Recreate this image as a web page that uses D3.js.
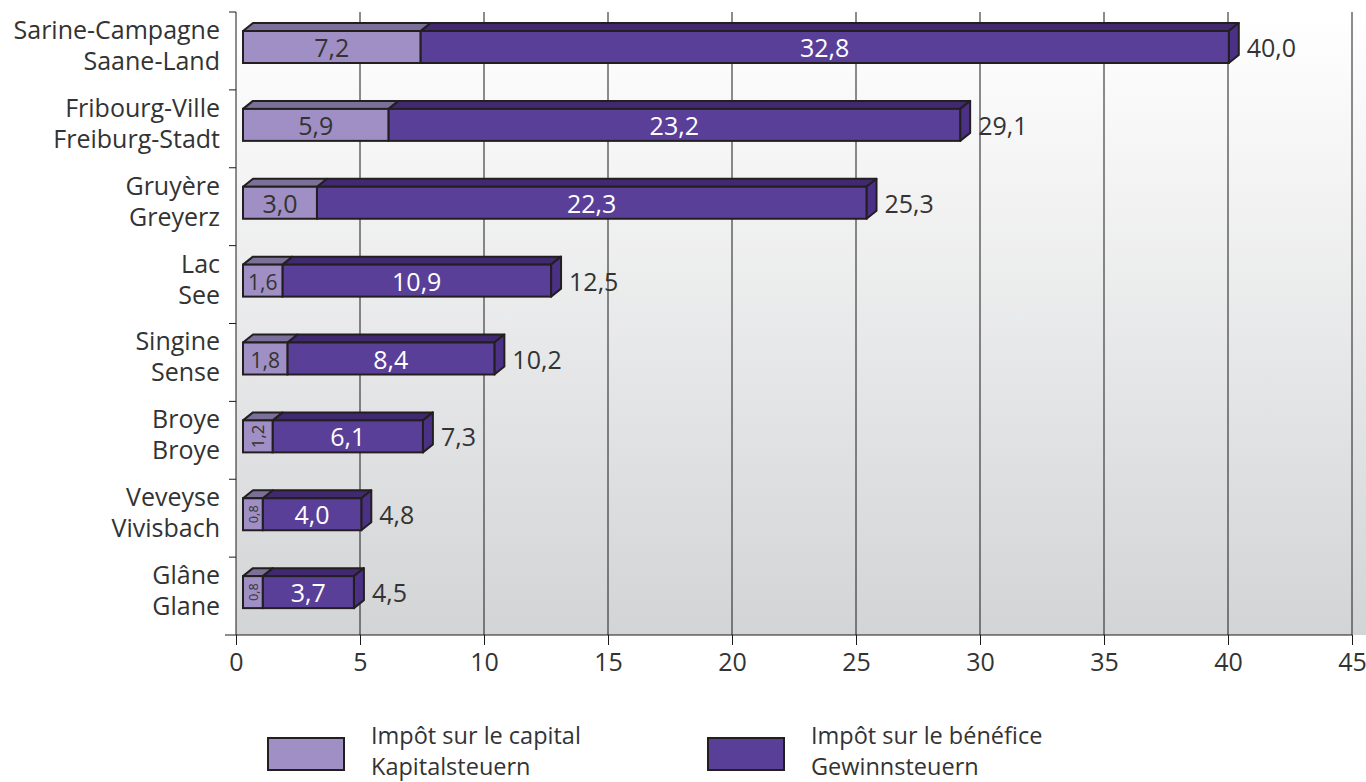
<!DOCTYPE html>
<html>
<head>
<meta charset="utf-8">
<script src="https://cdn.jsdelivr.net/npm/d3@7"></script>
<style>
    body { margin: 0; background: #fff; }
    svg text { font-family: "Open Sans", "Noto Sans", sans-serif; }
</style>
</head>
<body>
<div id="chart"></div>
<script>
// Districts (French / German)
const regionsFr = ['Sarine-Campagne', 'Fribourg-Ville', 'Gruyère', 'Lac', 'Singine', 'Broye', 'Veveyse', 'Glâne'];
const regionsDe = ['Saane-Land', 'Freiburg-Stadt', 'Greyerz', 'See', 'Sense', 'Broye', 'Vivisbach', 'Glane'];

// Values
const capital = [7.2, 5.9, 3.0, 1.6, 1.8, 1.2, 0.8, 0.8];
const benefice = [32.8, 23.2, 22.3, 10.9, 8.4, 6.1, 4.0, 3.7];
const totals = [40.0, 29.1, 25.3, 12.5, 10.2, 7.3, 4.8, 4.5];

const xTicks = [0, 5, 10, 15, 20, 25, 30, 35, 40, 45];
const legendFr = ['Impôt sur le capital', 'Impôt sur le bénéfice'];
const legendDe = ['Kapitalsteuern', 'Gewinnsteuern'];

const config = {
    width: 1366,
    height: 782,
    margin: { top: 12, right: 14, bottom: 147, left: 236 }
};

const colors = {
    capital: { front: '#9f8fc4', top: '#7b7097', side: '#6f6390' },
    benefice: { front: '#5a3f99', top: '#40296f', side: '#4a3186' }
};
const depth = { dx: 10, dy: 8 };

const fr = d3.formatLocale({ decimal: ',', thousands: "'", grouping: [3], currency: ['', ''] });
const fmt = fr.format('.1f');

const svg = d3.select('#chart').append('svg')
    .attr('width', config.width)
    .attr('height', config.height);

const plotW = config.width - config.margin.left - config.margin.right;
const plotH = config.height - config.margin.top - config.margin.bottom;
const x0 = config.margin.left, y0 = config.margin.top;

// Background gradient
const defs = svg.append('defs');
const grad = defs.append('linearGradient')
    .attr('id', 'bg').attr('x1', 0).attr('y1', 0).attr('x2', 0).attr('y2', 1);
grad.append('stop').attr('offset', '0%').attr('stop-color', '#ffffff');
grad.append('stop').attr('offset', '100%').attr('stop-color', '#d3d4d6');

svg.append('rect')
    .attr('x', x0).attr('y', y0)
    .attr('width', config.width - x0).attr('height', plotH)
    .attr('fill', 'url(#bg)');

// Scales
const x = d3.scaleLinear().domain([0, 45]).range([x0, x0 + plotW]);
// bars sit slightly inside the floor because of the 3D projection
const xb = d3.scaleLinear().domain([0, 45]).range([x(0) + 7, x(45)]);
const y = d3.scaleBand().domain(regionsFr).range([y0, y0 + plotH]);

// Gridlines
svg.append('g').selectAll('line')
    .data(xTicks.slice(1))
    .join('line')
    .attr('x1', d => x(d)).attr('x2', d => x(d))
    .attr('y1', y0).attr('y2', y0 + plotH)
    .attr('stroke', '#1a1a1a').attr('stroke-width', 1);

// Bottom axis
const xAxis = svg.append('g')
    .attr('transform', `translate(0,${y0 + plotH})`)
    .call(d3.axisBottom(x).tickValues(xTicks).tickSize(10).tickPadding(8).tickFormat(d => d));
xAxis.select('.domain').remove();
xAxis.append('line')
    .attr('x1', x0 - 11).attr('x2', x(45))
    .attr('stroke', '#1a1a1a');
xAxis.selectAll('.tick line').attr('stroke', '#1a1a1a');
xAxis.selectAll('.tick text')
    .attr('font-size', 25).attr('fill', '#333')
    .style('font-family', '"Open Sans", sans-serif');

// Left axis line + ticks at band boundaries
svg.append('line')
    .attr('x1', x0).attr('x2', x0).attr('y1', y0).attr('y2', y0 + plotH)
    .attr('stroke', '#1a1a1a');
const bounds = regionsFr.map(d => y(d));
svg.append('g').selectAll('line')
    .data(bounds)
    .join('line')
    .attr('x1', x0 - 7).attr('x2', x0)
    .attr('y1', d => d).attr('y2', d => d)
    .attr('stroke', '#1a1a1a');

// Category labels
const catLabels = svg.append('g').selectAll('text')
    .data(regionsFr)
    .join('text')
    .attr('text-anchor', 'end')
    .attr('font-size', 25)
    .attr('fill', '#333');
catLabels.append('tspan')
    .attr('x', 220)
    .attr('y', d => y(d) + y.bandwidth() / 2 - 12)
    .text(d => d);
catLabels.append('tspan')
    .attr('x', 220)
    .attr('y', (d, i) => y(d) + y.bandwidth() / 2 + 19)
    .text((d, i) => regionsDe[i]);

// Bars
const faceTop = 19, faceH = 32;

function drawBox(g, xa, xbEnd, yt, c, showSide) {
    // top face
    g.append('path')
        .attr('d', `M${xa},${yt} L${xa + depth.dx},${yt - depth.dy} L${xbEnd + depth.dx},${yt - depth.dy} L${xbEnd},${yt} Z`)
        .attr('fill', c.top).attr('stroke', '#231f20').attr('stroke-width', 2).attr('stroke-linejoin', 'round');
    if (showSide) {
        g.append('path')
            .attr('d', `M${xbEnd},${yt} L${xbEnd + depth.dx},${yt - depth.dy} L${xbEnd + depth.dx},${yt + faceH - depth.dy} L${xbEnd},${yt + faceH} Z`)
            .attr('fill', c.side).attr('stroke', '#231f20').attr('stroke-width', 2).attr('stroke-linejoin', 'round');
    }
    g.append('rect')
        .attr('x', xa).attr('y', yt)
        .attr('width', xbEnd - xa).attr('height', faceH)
        .attr('fill', c.front).attr('stroke', '#231f20').attr('stroke-width', 2);
}

const bars = svg.append('g');
regionsFr.forEach((r, i) => {
    const g = bars.append('g');
    const yt = y(r) + faceTop;
    const a = xb(0), b = xb(capital[i]), c = xb(capital[i] + benefice[i]);
    drawBox(g, b, c, yt, colors.benefice, true);
    drawBox(g, a, b, yt, colors.capital, false);

    const cy = yt + faceH / 2;
    // capital label
    const wCap = b - a;
    if (wCap > 55) {
        g.append('text').attr('x', (a + b) / 2).attr('y', cy)
            .attr('text-anchor', 'middle').attr('dominant-baseline', 'central')
            .attr('font-size', 25).attr('fill', '#333').text(fmt(capital[i]));
    } else if (wCap > 36) {
        g.append('text').attr('x', (a + b) / 2).attr('y', cy + 1)
            .attr('text-anchor', 'middle').attr('dominant-baseline', 'central')
            .attr('font-size', 21).attr('fill', '#333').text(fmt(capital[i]));
    } else {
        g.append('text')
            .attr('transform', `translate(${(a + b) / 2},${cy}) rotate(-90)`)
            .attr('text-anchor', 'middle').attr('dominant-baseline', 'central')
            .attr('font-size', Math.min(17, wCap * 0.65)).attr('fill', '#333').text(fmt(capital[i]));
    }
    // benefice label
    g.append('text').attr('x', (b + c) / 2).attr('y', cy)
        .attr('text-anchor', 'middle').attr('dominant-baseline', 'central')
        .attr('font-size', 25).attr('fill', '#fff').text(fmt(benefice[i]));
    // total
    g.append('text').attr('x', c + depth.dx + 8).attr('y', cy)
        .attr('dominant-baseline', 'central')
        .attr('font-size', 25).attr('fill', '#333').text(fmt(totals[i]));
});

// Legend
const legendX = [268, 708];
const legend = svg.append('g').selectAll('g')
    .data(['capital', 'benefice'])
    .join('g')
    .attr('transform', (d, i) => `translate(${legendX[i]},738)`);
legend.append('rect')
    .attr('width', 76).attr('height', 32)
    .attr('fill', d => colors[d].front)
    .attr('stroke', '#231f20').attr('stroke-width', 2);
const lt = legend.append('text').attr('font-size', 23.5).attr('fill', '#333');
lt.append('tspan').attr('x', 103).attr('y', 6).text((d, i) => legendFr[i]);
lt.append('tspan').attr('x', 103).attr('y', 37).text((d, i) => legendDe[i]);
</script>
</body>
</html>
